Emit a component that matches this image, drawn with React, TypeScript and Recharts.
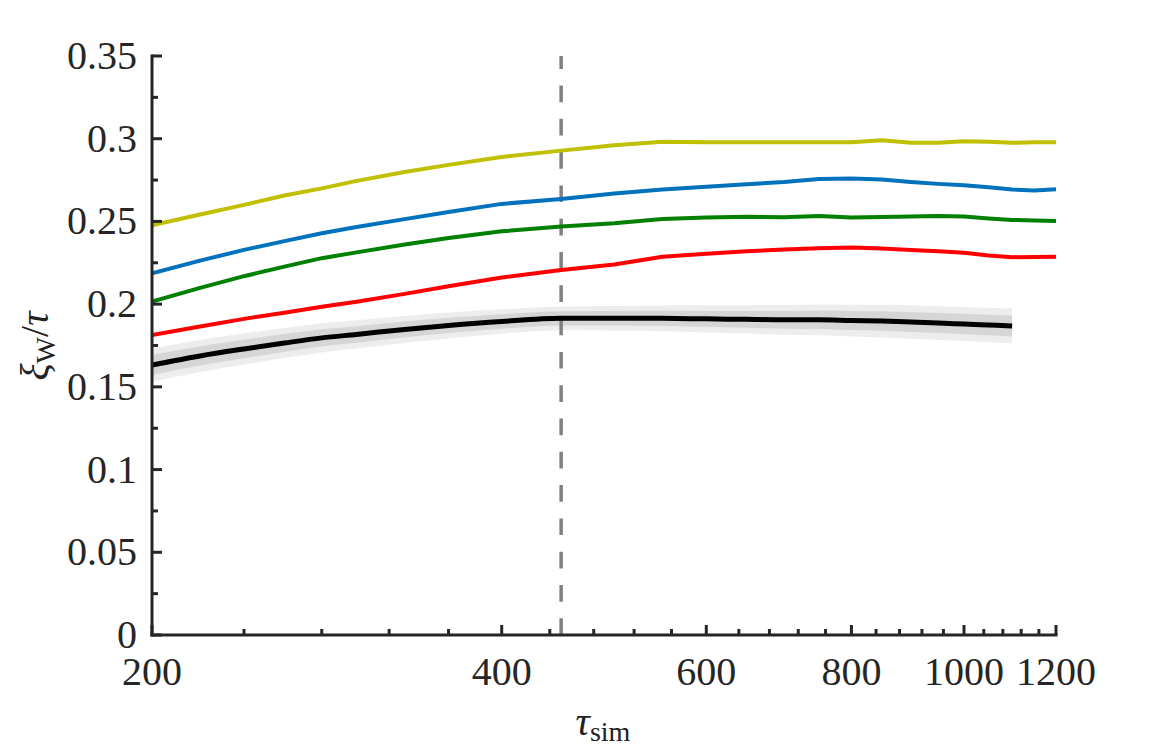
import React from "react";
import { ComposedChart, Line, Area, XAxis, YAxis, ReferenceLine } from "recharts";

// Simulation time samples (log axis)
const tauSim = [200, 220, 240, 260, 280, 300, 330, 360, 400, 450, 500, 550, 600, 650, 700, 750, 800, 850, 900, 950, 1000, 1050, 1100, 1150, 1200];

// xi_W / tau for each run
const yellowRun = [0.2476, 0.2542, 0.26, 0.2657, 0.27, 0.2745, 0.2799, 0.2842, 0.289, 0.2928, 0.296, 0.2981, 0.2978, 0.2978, 0.2979, 0.2979, 0.2979, 0.299, 0.2975, 0.2975, 0.2984, 0.2981, 0.2975, 0.2978, 0.2979];
const blueRun = [0.2187, 0.2263, 0.2328, 0.2381, 0.2429, 0.2466, 0.2514, 0.2557, 0.2606, 0.2636, 0.2669, 0.2693, 0.2709, 0.2725, 0.2739, 0.2757, 0.276, 0.2754, 0.2739, 0.2727, 0.2718, 0.2706, 0.2693, 0.2687, 0.2695];
const greenRun = [0.2015, 0.2098, 0.2169, 0.2227, 0.2278, 0.2313, 0.236, 0.24, 0.244, 0.2469, 0.2489, 0.2514, 0.2524, 0.2528, 0.2526, 0.2533, 0.2524, 0.2527, 0.253, 0.2533, 0.253, 0.2518, 0.2509, 0.2505, 0.2503];
const redRun = [0.1814, 0.1865, 0.1911, 0.1948, 0.1984, 0.2015, 0.2062, 0.2108, 0.2161, 0.2207, 0.224, 0.2287, 0.2304, 0.2319, 0.2331, 0.2338, 0.2342, 0.2336, 0.2328, 0.2319, 0.231, 0.2294, 0.2284, 0.2285, 0.2287];

// mean curve with its spread (ends at 1100)
const meanCurve = [0.1632, 0.1687, 0.1729, 0.1765, 0.1796, 0.1817, 0.1847, 0.1871, 0.1895, 0.1914, 0.1915, 0.1914, 0.1911, 0.1908, 0.1905, 0.1905, 0.1901, 0.1898, 0.1892, 0.1886, 0.188, 0.1874, 0.1868, null, null];
const spreadOuter = [0.01, 0.0097, 0.0094, 0.0091, 0.0088, 0.0085, 0.0082, 0.0078, 0.0074, 0.0072, 0.0074, 0.0078, 0.0082, 0.0086, 0.009, 0.0093, 0.0096, 0.0099, 0.0101, 0.0102, 0.0103, 0.0104, 0.0105, null, null];
const spreadInner = [0.006, 0.0058, 0.0056, 0.0054, 0.0052, 0.005, 0.0048, 0.0046, 0.0044, 0.0043, 0.0044, 0.0046, 0.0048, 0.0051, 0.0054, 0.0056, 0.0058, 0.0059, 0.006, 0.0061, 0.0062, 0.0062, 0.0063, null, null];

const xTicks = [200, 240, 280, 320, 360, 400, 440, 480, 520, 560, 600, 640, 680, 720, 760, 800, 840, 880, 920, 960, 1000, 1040, 1080, 1120, 1160, 1200];
const yTicks = [0, 0.025, 0.05, 0.075, 0.1, 0.125, 0.15, 0.175, 0.2, 0.225, 0.25, 0.275, 0.3, 0.325, 0.35];
const markerTau = 450;

const AXIS = "#262626";
const FONT = "'Liberation Serif', 'Times New Roman', serif";

const rows = tauSim.map((tau, i) => {
  const m = meanCurve[i];
  return {
    tau,
    yellow: yellowRun[i],
    blue: blueRun[i],
    green: greenRun[i],
    red: redRun[i],
    mean: m,
    outer: m == null ? null : [m - (spreadOuter[i] as number), m + (spreadOuter[i] as number)],
    inner: m == null ? null : [m - (spreadInner[i] as number), m + (spreadInner[i] as number)],
  };
});

const isMajorX = (v: number) => v % 200 === 0;
const isMajorY = (v: number) => Math.round(v * 1000) % 50 === 0;

const BottomTick = (props: any) => {
  const { x, y, payload } = props;
  const major = isMajorX(payload.value);
  return (
    <g>
      <line x1={x} x2={x} y1={y} y2={y - (major ? 10 : 6)} stroke={AXIS} strokeWidth={3} />
      {major && (
        <text x={x} y={y + 50} textAnchor="middle" fontSize={40} fontFamily={FONT} fill={AXIS}>
          {payload.value}
        </text>
      )}
    </g>
  );
};

const TopTick = (props: any) => {
  const { x, y, payload } = props;
  const major = isMajorX(payload.value);
  return <line x1={x} x2={x} y1={y} y2={y + (major ? 10 : 6)} stroke={AXIS} strokeWidth={3} />;
};

const LeftTick = (props: any) => {
  const { x, y, payload } = props;
  const major = isMajorY(payload.value);
  return (
    <g>
      <line x1={x} x2={x + (major ? 10 : 6)} y1={y} y2={y} stroke={AXIS} strokeWidth={3} />
      {major && (
        <text x={x - 15} y={y + 13} textAnchor="end" fontSize={40} fontFamily={FONT} fill={AXIS}>
          {String(payload.value)}
        </text>
      )}
    </g>
  );
};

const RightTick = (props: any) => {
  const { x, y, payload } = props;
  const major = isMajorY(payload.value);
  return <line x1={x} x2={x - (major ? 10 : 6)} y1={y} y2={y} stroke={AXIS} strokeWidth={3} />;
};

const YTitle = () => (
  <text transform="translate(40,338) rotate(-90)" textAnchor="middle" fontSize={40} fontFamily={FONT} fill="#222">
    <tspan fontStyle="italic">ξ</tspan>
    <tspan fontSize={28} dy={7}>W</tspan>
    <tspan dy={-7}>/</tspan>
    <tspan fontStyle="italic">τ</tspan>
  </text>
);

const XTitle = () => (
  <text x={595} y={727} textAnchor="middle" fontSize={40} fontFamily={FONT} fill="#222">
    <tspan fontStyle="italic">τ</tspan>
    <tspan fontSize={28} dy={6}>sim</tspan>
  </text>
);

const axisLine = { stroke: AXIS, strokeWidth: 3, strokeLinecap: "square" as const };

export default function App() {
  return (
    <ComposedChart
      width={1150}
      height={742}
      data={rows}
      margin={{ top: 48, left: 84, right: 102, bottom: 55 }}
    >
      <XAxis
        dataKey="tau"
        type="number"
        scale="log"
        domain={[200, 1200]}
        ticks={xTicks}
        interval={0}
        allowDataOverflow
        height={60}
        tickSize={0}
        tickMargin={0}
        tickLine={false}
        axisLine={axisLine}
        tick={<BottomTick />}
        label={<XTitle />}
      />
      <XAxis
        xAxisId="top"
        orientation="top"
        dataKey="tau"
        type="number"
        scale="log"
        domain={[200, 1200]}
        ticks={xTicks}
        interval={0}
        allowDataOverflow
        height={0}
        tickSize={0}
        tickMargin={0}
        tickLine={false}
        axisLine={axisLine}
        tick={<TopTick />}
      />
      <YAxis
        type="number"
        domain={[0, 0.35]}
        ticks={yTicks}
        interval={0}
        allowDataOverflow
        width={60}
        tickSize={0}
        tickMargin={0}
        tickLine={false}
        axisLine={axisLine}
        tick={<LeftTick />}
        label={<YTitle />}
      />
      <YAxis
        yAxisId="right"
        orientation="right"
        type="number"
        domain={[0, 0.35]}
        ticks={yTicks}
        interval={0}
        allowDataOverflow
        width={0}
        tickSize={0}
        tickMargin={0}
        tickLine={false}
        axisLine={axisLine}
        tick={<RightTick />}
      />
      <ReferenceLine x={markerTau} stroke="#808080" strokeWidth={3.5} strokeDasharray="16.7 16.6" />
      <Area dataKey="outer" type="monotone" stroke="none" fill="#ededed" fillOpacity={1} isAnimationActive={false} activeDot={false} />
      <Area dataKey="inner" type="monotone" stroke="none" fill="#d6d6d6" fillOpacity={1} isAnimationActive={false} activeDot={false} />
      <Line dataKey="yellow" type="linear" stroke="#c0bf00" strokeWidth={4} dot={false} activeDot={false} isAnimationActive={false} />
      <Line dataKey="blue" type="linear" stroke="#0072bd" strokeWidth={4} dot={false} activeDot={false} isAnimationActive={false} />
      <Line dataKey="green" type="linear" stroke="#008000" strokeWidth={4} dot={false} activeDot={false} isAnimationActive={false} />
      <Line dataKey="red" type="linear" stroke="#ff0000" strokeWidth={4} dot={false} activeDot={false} isAnimationActive={false} />
      <Line dataKey="mean" type="monotone" stroke="#000000" strokeWidth={5} dot={false} activeDot={false} isAnimationActive={false} />
    </ComposedChart>
  );
}
